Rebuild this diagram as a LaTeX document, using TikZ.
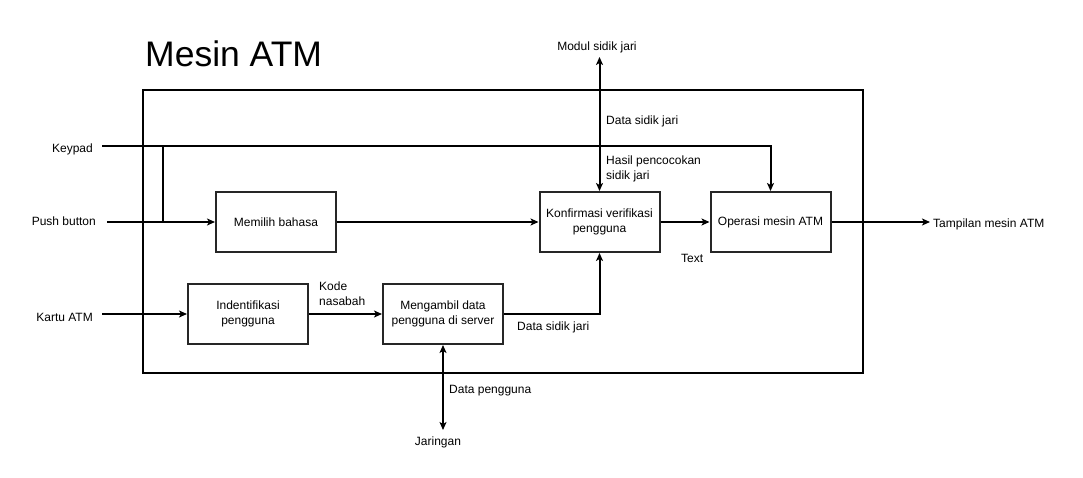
\documentclass[tikz,border=0pt]{standalone}
\usepackage{fontspec}
\setmainfont{Liberation Sans}
\usetikzlibrary{arrows.meta}
\begin{document}
\begin{tikzpicture}[x=1pt,y=-1pt,
  every node/.style={font=\fontsize{12}{15}\selectfont, inner sep=0pt},
  procbox/.style={draw=black!85, line width=2pt, minimum width=120pt, minimum height=60pt, align=center},
  conn/.style={line width=2pt, -{Stealth[length=8pt,width=7pt,inset=2pt]}},
  bconn/.style={line width=2pt, {Stealth[length=8pt,width=7pt,inset=2pt]}-{Stealth[length=8pt,width=7pt,inset=2pt]}},
  plain/.style={line width=2pt},
  lbl/.style={anchor=west, align=left}]
\useasboundingbox (0,0) rectangle (1083,478);
\fill[white] (0,0) rectangle (1083,478);
% frame and title
\draw[line width=2pt] (143,90) rectangle (863,373);
\node[anchor=base west, font=\fontsize{35.5}{40}\selectfont] (title) at (145,67) {Mesin ATM};
% boxes
\node[procbox] (mb) at (276,222) {Memilih bahasa};
\node[procbox] (kv) at (599.5,222) {Konfirmasi verifikasi\\pengguna};
\node[procbox] (op) at (770.5,222) {Operasi mesin ATM};
\node[procbox] (id) at (248,314) {Indentifikasi\\pengguna};
\node[procbox] (me) at (443,314) {Mengambil data\\pengguna di server};
% external texts
\node[anchor=east] (kp) at (93,149) {Keypad};
\node[anchor=east] (pb) at (96,221) {Push button};
\node[anchor=east] (ka) at (93,317) {Kartu ATM};
\node (modul) at (597,47) {Modul sidik jari};
\node[anchor=west] (tamp) at (933,224) {Tampilan mesin ATM};
\node (jar) at (438,442) {Jaringan};
% labels
\node[lbl] (l1) at (606,121) {Data sidik jari};
\node[lbl] (l2) at (606,169) {Hasil pencocokan\\sidik jari};
\node[lbl] (l3) at (681,258) {Text};
\node[lbl] (l4) at (319,294) {Kode\\nasabah};
\node[lbl] (l5) at (517,327) {Data sidik jari};
\node[lbl] (l6) at (449,391) {Data pengguna};
% coordinates
\coordinate (kpS) at (102,146);
\coordinate (pbS) at (107,222);
\coordinate (kaS) at (102,314);
\coordinate (j1) at (163,146);
\coordinate (j2) at (163,222);
\coordinate (modE) at (599.5,57);
\coordinate (tampE) at (930,222);
\coordinate (jarE) at (443,430);
% connectors
\draw[conn] (kpS) -| (op.north);
\draw[plain] (j1) -- (j2);
\draw[conn] (pbS) -- (mb.west |- pbS);
\draw[conn] (mb.east) -- (kv.west);
\draw[conn] (kv.east) -- (op.west);
\draw[conn] (op.east) -- (tampE);
\draw[bconn] (kv.north) -- (modE);
\draw[conn] (kaS) -- (id.west);
\draw[conn] (id.east) -- (me.west);
\draw[conn] (me.east) -| (kv.south);
\draw[bconn] (me.south) -- (jarE);
\end{tikzpicture}
\end{document}
